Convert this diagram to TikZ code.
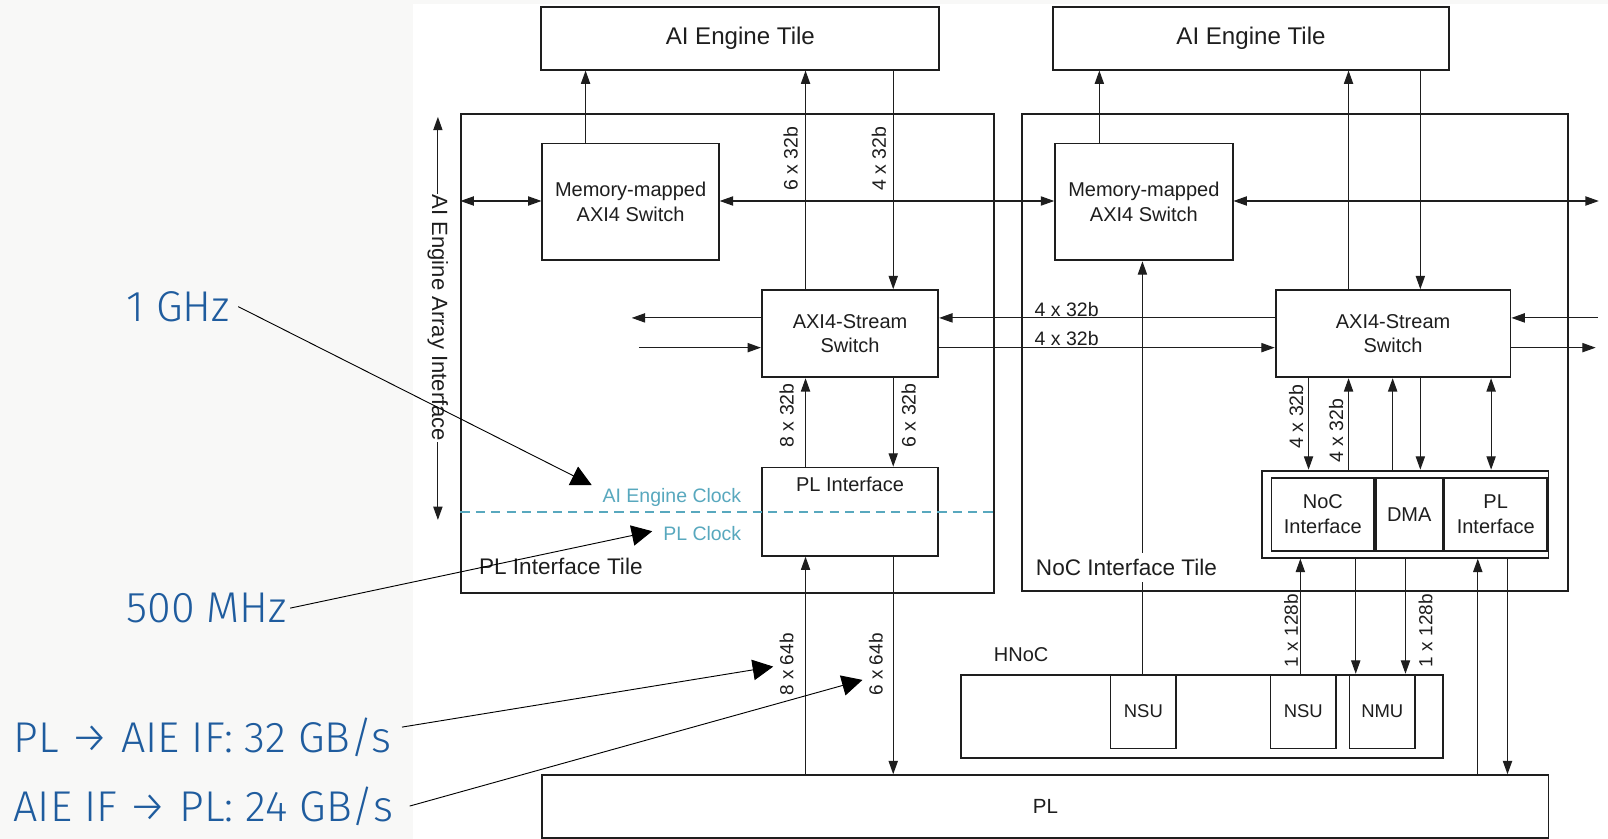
\documentclass[tikz,border=0pt]{standalone}
\usepackage{fontspec}
\setmainfont{Liberation Sans}
\newfontfamily\notefont{Fira Sans Light}
\usetikzlibrary{arrows.meta,positioning,calc}
\definecolor{ink}{RGB}{30,30,30}
\definecolor{slide}{RGB}{248,248,247}
\definecolor{noteblue}{RGB}{31,92,158}
\definecolor{clk}{RGB}{88,168,190}
\newcommand{\fsz}[2]{\fontsize{#1}{#2}\selectfont}
\tikzset{
  tile/.style={draw=ink,line width=1.8pt,inner sep=0pt,anchor=north west},
  blk/.style={draw=ink,line width=1.8pt,fill=white,inner sep=0pt,align=center,
    anchor=north west,font=\fsz{19.5}{24},text=ink},
  arr/.style={-{Triangle[length=13pt,width=9pt]},line width=1.1pt,ink},
  biarr/.style={{Triangle[length=13pt,width=9pt]}-{Triangle[length=13pt,width=9pt]},line width=1.1pt,ink},
  lbl/.style={font=\fsz{19}{22},text=ink,inner sep=1pt},
  vlbl/.style={lbl,rotate=90},
  clock/.style={font=\fsz{19}{22},text=clk,inner sep=1pt},
  notetxt/.style={font=\notefont\fsz{42}{48},text=noteblue,inner sep=2pt},
  ptr/.style={-{Triangle[length=20pt,width=20pt]},line width=0.9pt,black},
}

\begin{document}
\begin{tikzpicture}[x=1pt,y=-1pt]
  \useasboundingbox (0,0) rectangle (1568,818);
  % slide and figure panel
  \fill[slide] (0,0) rectangle (1568,818);
  \fill[white] (403,4) rectangle (1568,818);

  % lanes
  \foreach \n/\v in {xmm/571,xa/785.5,xb/871,xmr/1072,xnsu/1114,xc/1315,xd/1385,
      xe/1276,xf/1358,xg/1454,xh/1268,xi/1322,xj/1370.5,xk/1441,xl/1470}
    \coordinate (\n) at (\v,0);
  \foreach \n/\v in {ymm/196,ysa/310,ysb/339,yclk/499}
    \coordinate (\n) at (0,\v);

  % tiles
  \node[tile,minimum width=519pt,minimum height=467pt] (plt) at (449,110) {};
  \node[tile,minimum width=532pt,minimum height=465pt] (nct) at (996,110) {};

  % AI Engine tiles
  \node[blk,font=\fsz{23.5}{28},minimum width=388pt,minimum height=61pt] (aieL) at (527,6) {AI Engine Tile};
  \node[blk,font=\fsz{23.5}{28},minimum width=386pt,minimum height=61pt] (aieR) at (1026,6) {AI Engine Tile};

  % switches
  \node[blk,minimum width=172pt,minimum height=114pt] (mmL) at (528,139) {Memory-mapped\\AXI4 Switch};
  \node[blk,minimum width=173pt,minimum height=114pt] (mmR) at (1028,139) {Memory-mapped\\AXI4 Switch};
  \node[blk,minimum width=172pt,minimum height=85pt] (axsL) at (742,282) {AXI4-Stream\\Switch};
  \node[blk,minimum width=229pt,minimum height=85pt] (axsR) at (1243,282) {AXI4-Stream\\Switch};

  % interfaces
  \node[blk,minimum width=172pt,minimum height=86pt,
    label={[lbl,font=\fsz{19.5}{24},anchor=north,yshift=-9pt]north:PL Interface}] (plif) at (742,455) {};
  \node[blk,minimum width=279pt,minimum height=85pt] (blkR) at (1230,458) {};
  \node[blk,minimum width=100pt,minimum height=71pt] (nocif) at (1239,465) {NoC\\Interface};
  \node[blk,minimum width=65pt,minimum height=71pt,right=0pt of nocif] (dma) {DMA};
  \node[blk,minimum width=100pt,minimum height=71pt,right=0pt of dma] (plifR) {PL\\Interface};

  % HNoC and PL
  \node[blk,minimum width=470pt,minimum height=81pt] (hnoc) at (936,657) {};
  \node[lbl,font=\fsz{19.5}{24},anchor=west] (hnocL) at (968,638) {HNoC};
  \node[blk,font=\fsz{18}{22},minimum width=64pt,minimum height=72pt] (nsuA) at (1082,657) {NSU};
  \node[blk,font=\fsz{18}{22},minimum width=64pt,minimum height=72pt] (nsuB) at (1238,657) {NSU};
  \node[blk,font=\fsz{18}{22},minimum width=64pt,minimum height=72pt] (nmu) at (1315,657) {NMU};
  \node[blk,font=\fsz{20}{24},minimum width=981pt,minimum height=61pt] (pl) at (528,755) {PL};

  % memory-mapped path
  \draw[arr] (mmL.north -| xmm) -- (aieL.south -| xmm);
  \draw[biarr] (plt.west |- ymm) -- (mmL.west |- ymm);
  \draw[biarr] (mmL.east |- ymm) -- (mmR.west |- ymm);
  \coordinate (mmOut) at (1559,196);
  \draw[biarr] (mmR.east |- ymm) -- (mmOut);
  \draw[arr] (mmR.north -| xmr) -- (aieR.south -| xmr);
  \draw[arr] (nsuA.north -| xnsu) -- (mmR.south -| xnsu);

  % stream path, left
  \draw[arr] (axsL.north -| xa) -- (aieL.south -| xa);
  \draw[arr] (aieL.south -| xb) -- (axsL.north -| xb);
  \coordinate (wOut) at (616,310);
  \coordinate (wIn) at (623,339);
  \draw[arr] (axsL.west |- ysa) -- (wOut);
  \draw[arr] (wIn) -- (axsL.west |- ysb);
  \draw[arr] (axsR.west |- ysa) -- node[lbl,above,pos=0.62] (h1) {4 x 32b} (axsL.east |- ysa);
  \draw[arr] (axsL.east |- ysb) -- node[lbl,above,pos=0.38] (h2) {4 x 32b} (axsR.west |- ysb);
  \draw[arr] (plif.north -| xa) -- (axsL.south -| xa);
  \draw[arr] (axsL.south -| xb) -- (plif.north -| xb);
  \draw[arr] (pl.north -| xa) -- (plif.south -| xa);
  \draw[arr] (plif.south -| xb) -- (pl.north -| xb);

  % stream path, right
  \coordinate (eIn) at (1558,310);
  \coordinate (eOut) at (1556,339);
  \draw[arr] (eIn) -- (axsR.east |- ysa);
  \draw[arr] (axsR.east |- ysb) -- (eOut);
  \draw[arr] (axsR.north -| xc) -- (aieR.south -| xc);
  \draw[arr] (aieR.south -| xd) -- (axsR.north -| xd);
  \draw[arr] (axsR.south -| xe) -- (blkR.north -| xe);
  \draw[arr] (blkR.north -| xc) -- (axsR.south -| xc);
  \draw[arr] (blkR.north -| xf) -- (axsR.south -| xf);
  \draw[arr] (axsR.south -| xd) -- (blkR.north -| xd);
  \draw[biarr] (blkR.north -| xg) -- (axsR.south -| xg);
  \draw[arr] (nsuB.north -| xh) -- (blkR.south -| xh);
  \draw[arr] (blkR.south -| xi) -- (hnoc.north -| xi);
  \draw[arr] (blkR.south -| xj) -- (nmu.north -| xj);
  \draw[arr] (pl.north -| xk) -- (blkR.south -| xk);
  \draw[arr] (blkR.south -| xl) -- (pl.north -| xl);

  % widths
  \node[vlbl] (v1) at (771,155) {6 x 32b};
  \node[vlbl] (v2) at (857,155) {4 x 32b};
  \node[vlbl] (v3) at (767,405) {8 x 32b};
  \node[vlbl] (v4) at (886,405) {6 x 32b};
  \node[vlbl,font=\fsz{18.5}{22}] (v5) at (767,648) {8 x 64b};
  \node[vlbl,font=\fsz{18.5}{22}] (v6) at (854,648) {6 x 64b};
  \node[vlbl] (v7) at (1264,406) {4 x 32b};
  \node[vlbl] (v8) at (1303,420) {4 x 32b};
  \node[vlbl,font=\fsz{18.5}{22}] (v9) at (1259,615) {1 x 128b};
  \node[vlbl,font=\fsz{18.5}{22}] (v10) at (1390,615) {1 x 128b};

  % tile names
  \node[lbl,font=\fsz{22}{26},anchor=west] (pltL) at (466,552) {PL Interface Tile};
  \node[lbl,font=\fsz{22}{26},anchor=west,fill=white,inner xsep=2pt,inner ysep=6pt] (nctL) at (1008,553) {NoC Interface Tile};
  \node[lbl,font=\fsz{21.5}{26},rotate=-90] (aaif) at (427,310) {AI Engine Array Interface};
  \coordinate (aaTop) at (427,114);
  \coordinate (aaBot) at (427,507);
  \draw[arr] (aaif.west) -- (aaTop);
  \draw[arr] (aaif.east) -- (aaBot);

  % clock domains
  \draw[clk,line width=1.5pt,dash pattern=on 9pt off 6pt] (plt.west |- yclk) -- (plt.east |- yclk);
  \node[clock,anchor=east] (aieclk) at (724,485) {AI Engine Clock};
  \node[clock,anchor=east] (plclk) at (724,520) {PL Clock};

  % notes
  \node[notetxt,anchor=west] (ghz) at (121,299) {1 GHz};
  \node[notetxt,anchor=west] (mhz) at (121,593) {500 MHz};
  \node[notetxt,anchor=west] (pl2aie) at (11,719) {PL → AIE IF: 32 GB/s};
  \node[notetxt,anchor=west] (aie2pl) at (11,786) {AIE IF → PL: 24 GB/s};
  \coordinate (tGhz) at (577,473);
  \coordinate (tMhz) at (636,518);
  \coordinate (tIn) at (754,650);
  \coordinate (tOut) at (841,663);
  \draw[ptr] ($(ghz.east)+(6,0)$) -- (tGhz);
  \draw[ptr] ($(mhz.east)+(1,0)$) -- (tMhz);
  \draw[ptr] ($(pl2aie.east)+(8,-10)$) -- (tIn);
  \draw[ptr] ($(aie2pl.east)+(14,0)$) -- (tOut);
\end{tikzpicture}
\end{document}
